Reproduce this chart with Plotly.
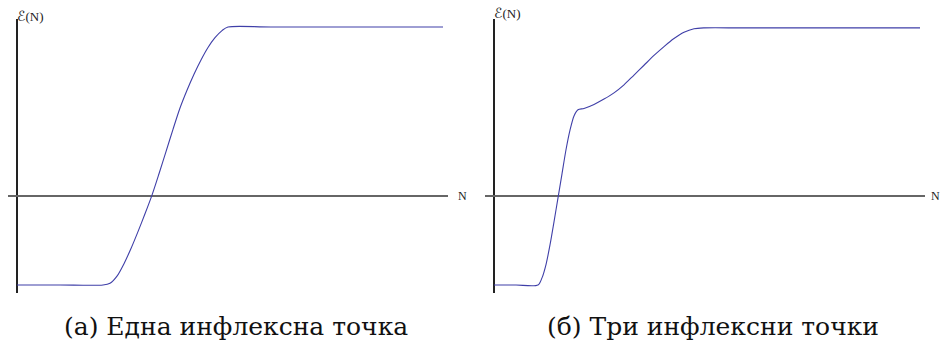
import plotly.graph_objects as go

# Energy curves E(N): one inflection point (left) and three inflection points (right)
n_one = [0, 4.3, 8.6, 9.3, 10.0, 10.7, 11.4, 12.1, 12.8, 13.5, 14.2, 14.9, 15.6, 16.3,
         17.0, 17.7, 18.4, 19.1, 19.8, 20.5, 21.1, 25.4, 42.6]
e_one = [-1.0, -1.0, -1.0, -0.98, -0.9, -0.76, -0.59, -0.4, -0.2, 0.01, 0.25, 0.5, 0.75, 0.99,
         1.19, 1.37, 1.53, 1.67, 1.78, 1.86, 1.9, 1.9, 1.9]

n_three = [0, 2.2, 4.4, 4.8, 5.2, 5.6, 6.0, 6.4, 6.8, 7.2, 7.6, 8.0, 8.4, 9.0, 10.0, 11.0,
           12.0, 13.0, 14.0, 15.0, 16.0, 17.0, 18.0, 19.0, 20.0, 21.0, 25.0, 42.6]
e_three = [-1.0, -1.0, -1.0, -0.92, -0.77, -0.55, -0.29, -0.02, 0.25, 0.52, 0.74, 0.9, 0.97, 0.985, 1.03, 1.09,
           1.16, 1.25, 1.36, 1.47, 1.58, 1.68, 1.77, 1.84, 1.88, 1.89, 1.89, 1.89]

captions = ["(а) Една инфлексна точка", "(б) Три инфлексни точки"]
axis_label_y = "<span style='font-family:DejaVu Sans;font-size:14px'>\u2130</span>(N)"
axis_label_x = "N"

W, H = 940, 347
CURVE = "#3f3fa8"
SERIF = "Liberation Serif, DejaVu Serif, serif"

fig = go.Figure()
fig.add_trace(go.Scatter(x=n_one, y=e_one, mode="lines",
                         line=dict(color=CURVE, width=1.1, shape="spline", smoothing=0.8),
                         xaxis="x", yaxis="y", showlegend=False, hoverinfo="skip"))
fig.add_trace(go.Scatter(x=n_three, y=e_three, mode="lines",
                         line=dict(color=CURVE, width=1.1, shape="spline", smoothing=0.8),
                         xaxis="x2", yaxis="y2", showlegend=False, hoverinfo="skip"))

ydom = [1 - 293 / H, 1 - 19 / H]
common_x = dict(showgrid=False, showticklabels=False, ticks="", showline=False,
                zeroline=True, zerolinecolor="#222222", zerolinewidth=1.5)
common_y = dict(showgrid=False, showticklabels=False, ticks="", showline=False,
                zeroline=True, zerolinecolor="#666666", zerolinewidth=1.5,
                range=[-1.09, 1.99], domain=ydom)

fig.update_layout(
    width=W, height=H, margin=dict(l=0, r=0, t=0, b=0),
    paper_bgcolor="white", plot_bgcolor="white",
    xaxis=dict(domain=[8 / W, 448 / W], range=[-0.9, 43.1], anchor="y", **common_x),
    yaxis=dict(anchor="x", **common_y),
    xaxis2=dict(domain=[485 / W, 925 / W], range=[-0.9, 43.1], anchor="y2", **common_x),
    yaxis2=dict(anchor="x2", **common_y),
)

annotations = []
# Axis labels
for xr, yr, ylab_px, xend_px in (("x", "y", 16, 456), ("x2", "y2", 13, 929)):
    annotations.append(dict(x=0, xref=xr, y=1 - ylab_px / H, yref="paper", text=axis_label_y,
                            showarrow=False, xanchor="left", yanchor="middle", xshift=-2,
                            font=dict(family=SERIF, size=13, color="#222222")))
    annotations.append(dict(x=xend_px / W, xref="paper", y=0, yref=yr,
                            text=axis_label_x, showarrow=False, xanchor="left", yanchor="middle",
                            font=dict(family=SERIF, size=12, color="#222222")))
# Captions
for cx, cap in zip((235.5 / W, 712.5 / W), captions):
    annotations.append(dict(x=cx, xref="paper", y=1 - 326 / H, yref="paper", text=cap,
                            showarrow=False, xanchor="center", yanchor="middle",
                            font=dict(family="DejaVu Serif, serif", size=25, color="#111111")))
fig.update_layout(annotations=annotations)

fig.write_html("out.html")
